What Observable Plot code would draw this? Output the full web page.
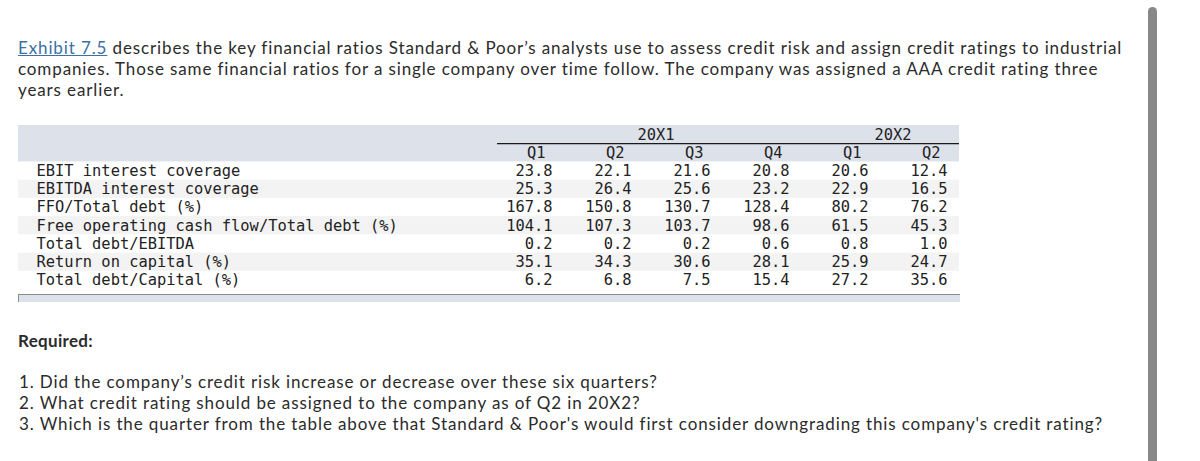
<!DOCTYPE html>
<html><head><meta charset="utf-8">
<script src="https://cdn.jsdelivr.net/npm/d3@7"></script>
<script src="https://cdn.jsdelivr.net/npm/@observablehq/plot@0.6"></script>
<style>
html,body{margin:0;padding:0;background:#fff;}
body{width:1200px;height:461px;overflow:hidden;position:relative;font-family:Lato,"Open Sans",sans-serif;color:#2b2b2b;}
.line{position:absolute;left:18px;font-size:17px;line-height:21px;letter-spacing:0.88px;white-space:nowrap;}
a{color:#3b6fa6;text-decoration:underline;}
#table{position:absolute;left:0;top:118px;}
#track{position:absolute;left:18px;top:294px;width:941px;height:7px;background:#dde1e9;border-top:1px solid #8c8c8c;border-left:1px solid #8c8c8c;}
#sb{position:absolute;left:1148px;top:7px;width:9px;height:470px;background:#888;border-radius:5px 5px 0 0;}
</style></head><body>
<div class="line" style="top:37px"><a>Exhibit 7.5</a> describes the key financial ratios Standard &amp; Poor’s analysts use to assess credit risk and assign credit ratings to industrial</div>
<div class="line" style="top:58px">companies. Those same financial ratios for a single company over time follow. The company was assigned a AAA credit rating three</div>
<div class="line" style="top:79px">years earlier.</div>
<div id="table"></div>
<div id="track"></div>
<div class="line" style="top:330px;font-weight:bold;letter-spacing:0.3px">Required:</div>
<div class="line" style="top:371px;left:19px">1. Did the company’s credit risk increase or decrease over these six quarters?</div>
<div class="line" style="top:392px;left:19px">2. What credit rating should be assigned to the company as of Q2 in 20X2?</div>
<div class="line" style="top:413px;left:19px">3. Which is the quarter from the table above that Standard &amp; Poor's would first consider downgrading this company's credit rating?</div>
<div id="sb"></div>
<script>
const years = ["20X1","20X1","20X1","20X1","20X2","20X2"];
const quarters = ["Q1","Q2","Q3","Q4","Q1","Q2"];
const metrics = [
  "EBIT interest coverage",
  "EBITDA interest coverage",
  "FFO/Total debt (%)",
  "Free operating cash flow/Total debt (%)",
  "Total debt/EBITDA",
  "Return on capital (%)",
  "Total debt/Capital (%)"
];
const ebitInterestCoverage   = [23.8, 22.1, 21.6, 20.8, 20.6, 12.4];
const ebitdaInterestCoverage = [25.3, 26.4, 25.6, 23.2, 22.9, 16.5];
const ffoTotalDebt           = [167.8, 150.8, 130.7, 128.4, 80.2, 76.2];
const freeCashFlowTotalDebt  = [104.1, 107.3, 103.7, 98.6, 61.5, 45.3];
const totalDebtEbitda        = [0.2, 0.2, 0.2, 0.6, 0.8, 1.0];
const returnOnCapital        = [35.1, 34.3, 30.6, 28.1, 25.9, 24.7];
const totalDebtCapital       = [6.2, 6.8, 7.5, 15.4, 27.2, 35.6];

const series = [ebitInterestCoverage, ebitdaInterestCoverage, ffoTotalDebt, freeCashFlowTotalDebt, totalDebtEbitda, returnOnCapital, totalDebtCapital];
const HEADER_ROWS = 2;
const cells = series.flatMap((vals, r) => vals.map((v, c) => ({row: r + HEADER_ROWS, col: c, value: v})));
const rowLabels = metrics.map((m, r) => ({row: r + HEADER_ROWS, label: m}));
const stripes = rowLabels.filter((d, i) => i % 2 === 1);
const yearLabels = d3.groups(years.map((y, i) => ({y, i})), d => d.y).map(([y, g]) => ({year: y, mid: d3.mean(g, d => d.i)}));
const quarterLabels = quarters.map((q, i) => ({q, col: i}));

const mono = "DejaVu Sans Mono, monospace";
const fs = 15.4;
const plot = Plot.plot({
  width: 1200,
  height: 190,
  marginTop: 7,
  marginBottom: 19,
  marginLeft: 18,
  marginRight: 241,
  x: {type: "linear", domain: [0, 5], range: [552, 947], axis: null},
  y: {type: "linear", domain: [0, HEADER_ROWS + metrics.length], reverse: true, axis: null},
  style: {background: "transparent", overflow: "visible"},
  marks: [
    Plot.rect([0], {y1: () => 0, y2: () => HEADER_ROWS, fill: "#dde1e9"}),
    Plot.rect(stripes, {y1: d => d.row, y2: d => d.row + 1, fill: "#f3f3f3"}),
    Plot.ruleY([1], {y: d => d, insetLeft: 479, stroke: "#1a1a1a", strokeWidth: 1.3}),
    Plot.text(yearLabels, {x: "mid", y: () => 0.5, text: "year", dx: -15, fontFamily: mono, fontSize: fs, fill: "#222"}),
    Plot.text(quarterLabels, {x: "col", y: () => 1.5, text: "q", textAnchor: "end", dx: -7, fontFamily: mono, fontSize: fs, fill: "#222"}),
    Plot.text(rowLabels, {y: d => d.row + 0.5, text: "label", frameAnchor: "left", textAnchor: "start", dx: 18, fontFamily: mono, fontSize: fs, fill: "#222"}),
    Plot.text(cells, {x: "col", y: d => d.row + 0.5, text: d => d.value.toFixed(1), textAnchor: "end", fontFamily: mono, fontSize: fs, fill: "#222"})
  ]
});
document.getElementById("table").appendChild(plot);
</script>
</body></html>
